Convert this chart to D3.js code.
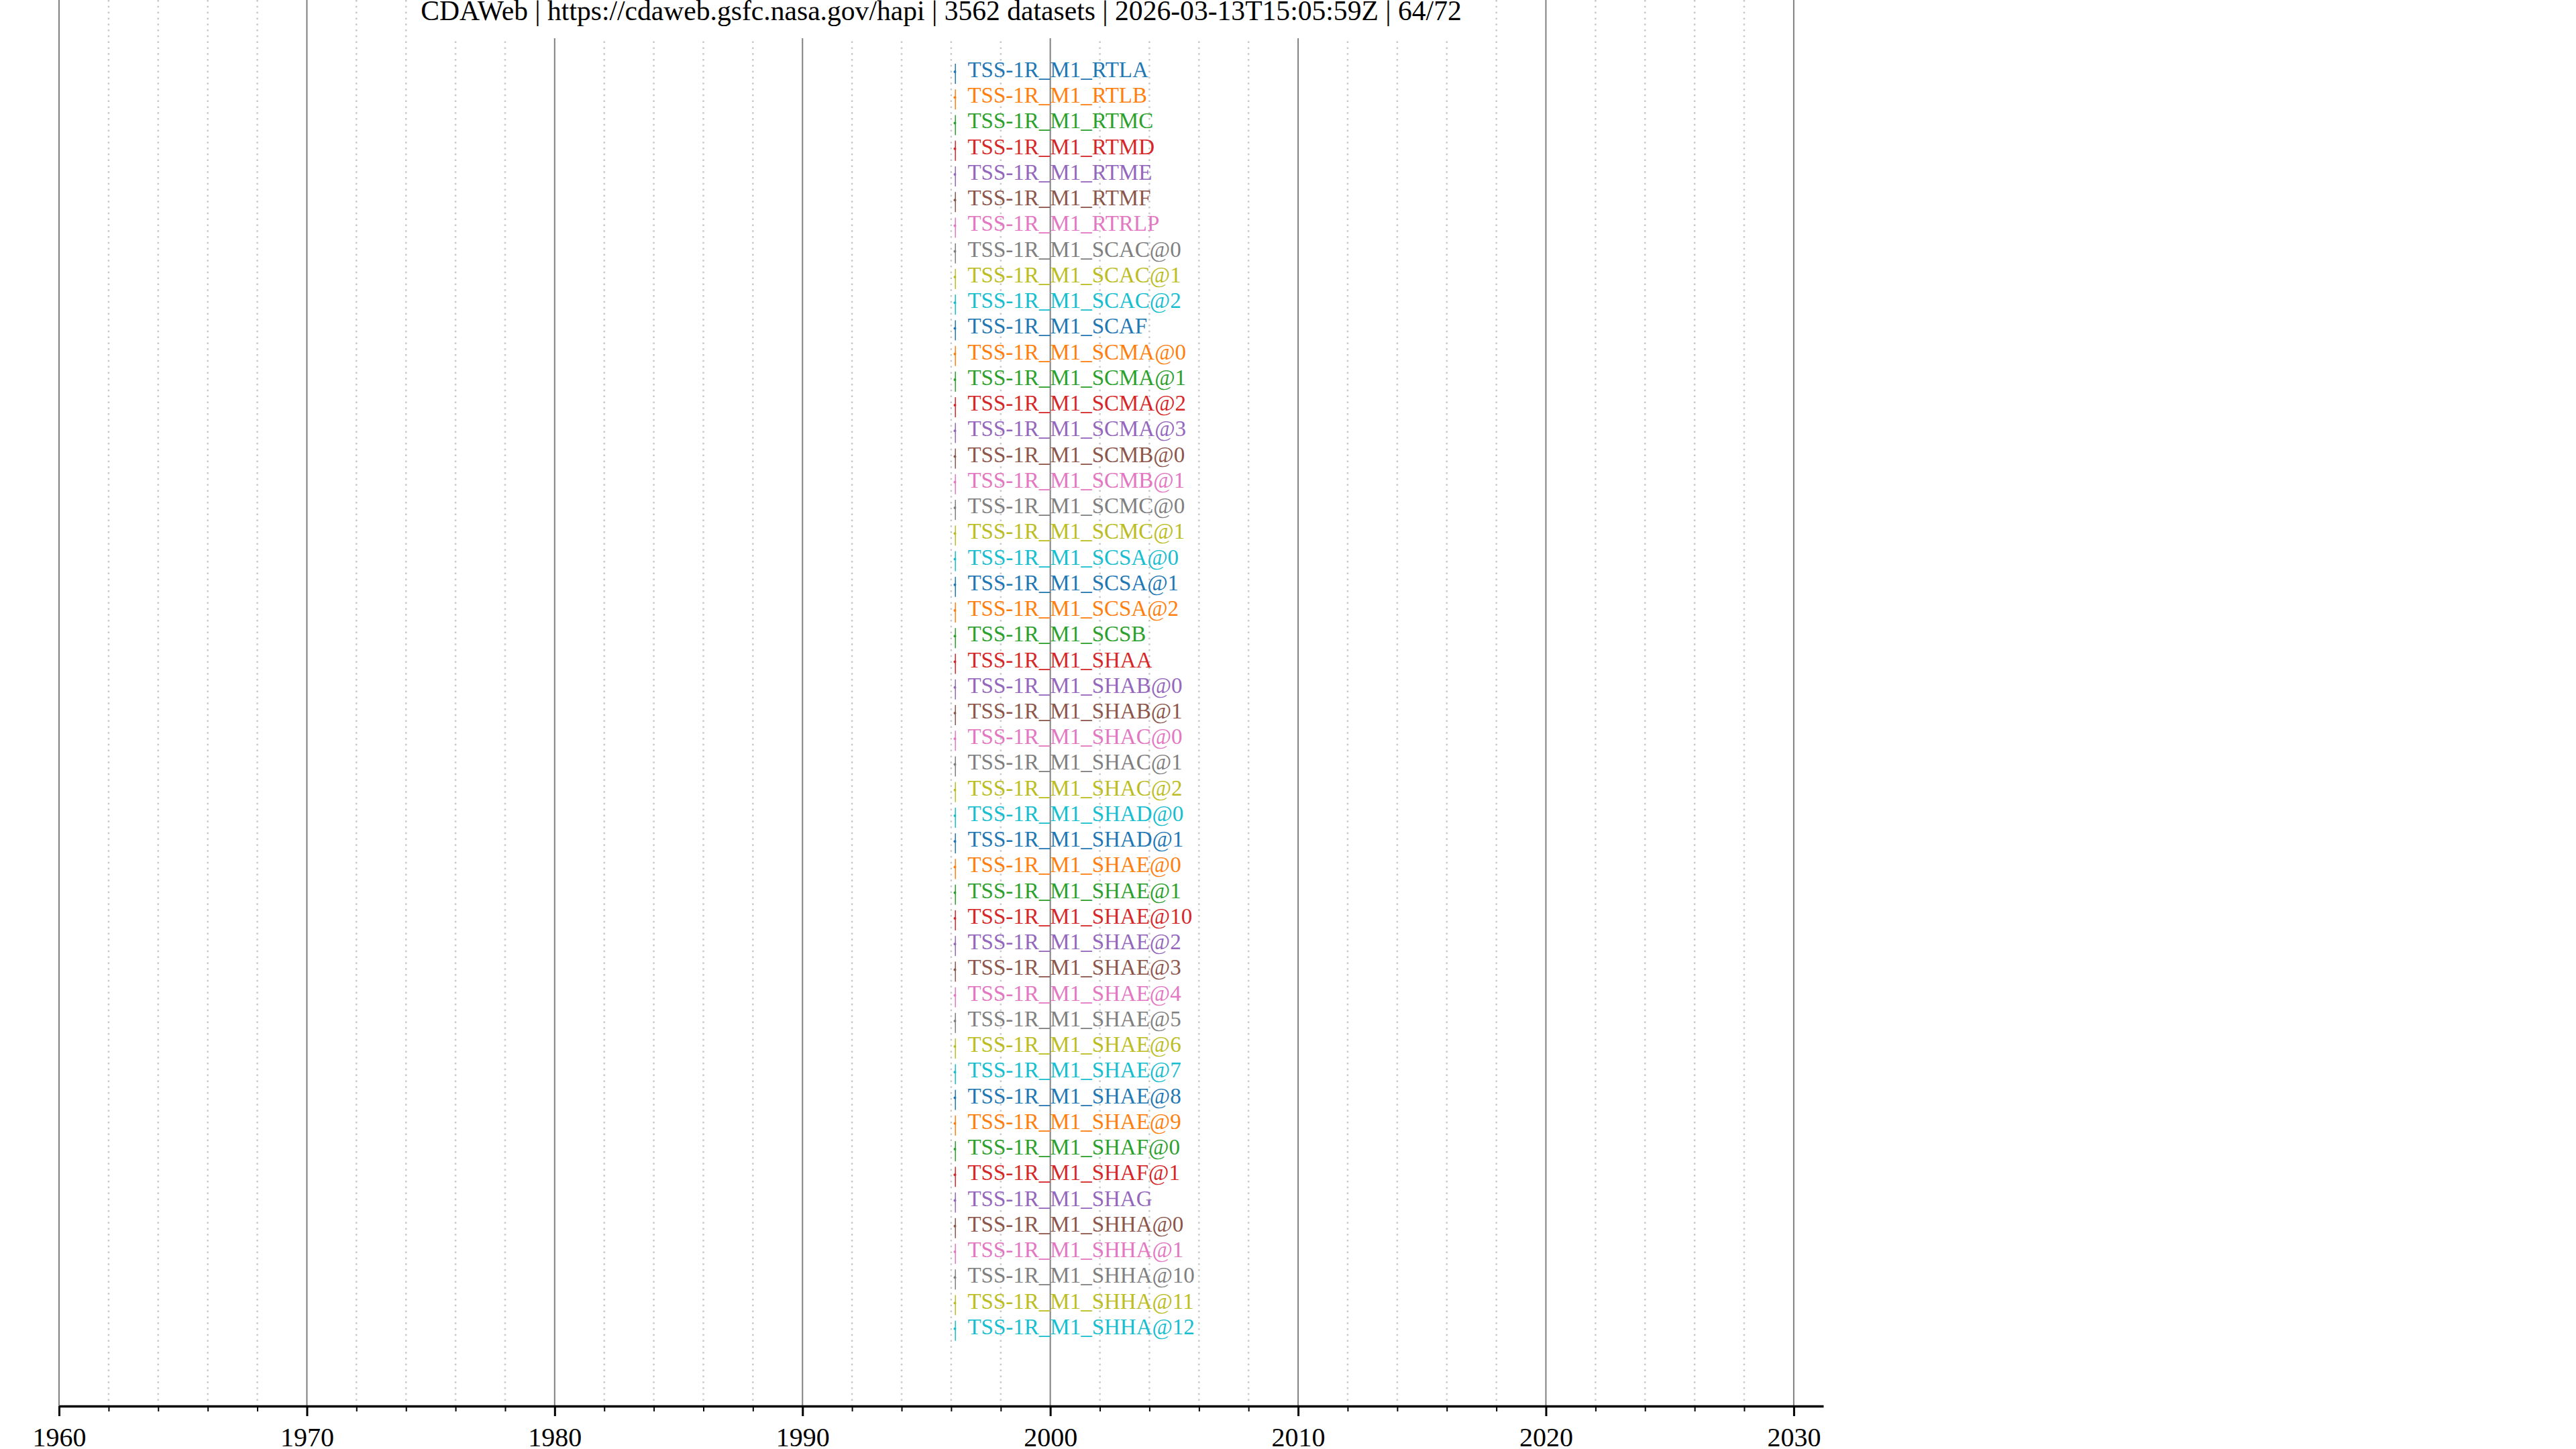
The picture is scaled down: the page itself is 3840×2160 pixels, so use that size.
<!DOCTYPE html>
<html>
<head>
<meta charset="utf-8">
<script src="https://cdn.jsdelivr.net/npm/d3@7"></script>
<style>
  html, body { margin: 0; padding: 0; background: #ffffff; }
  svg { display: block; }
</style>
</head>
<body>
<script>
// ---------------- data ----------------
const titleText = "CDAWeb | https://cdaweb.gsfc.nasa.gov/hapi | 3562 datasets | 2026-03-13T15:05:59Z | 64/72";

const datasetIds = [
  "TSS-1R_M1_RTLA", "TSS-1R_M1_RTLB", "TSS-1R_M1_RTMC", "TSS-1R_M1_RTMD", "TSS-1R_M1_RTME",
  "TSS-1R_M1_RTMF", "TSS-1R_M1_RTRLP", "TSS-1R_M1_SCAC@0", "TSS-1R_M1_SCAC@1", "TSS-1R_M1_SCAC@2",
  "TSS-1R_M1_SCAF", "TSS-1R_M1_SCMA@0", "TSS-1R_M1_SCMA@1", "TSS-1R_M1_SCMA@2", "TSS-1R_M1_SCMA@3",
  "TSS-1R_M1_SCMB@0", "TSS-1R_M1_SCMB@1", "TSS-1R_M1_SCMC@0", "TSS-1R_M1_SCMC@1", "TSS-1R_M1_SCSA@0",
  "TSS-1R_M1_SCSA@1", "TSS-1R_M1_SCSA@2", "TSS-1R_M1_SCSB", "TSS-1R_M1_SHAA", "TSS-1R_M1_SHAB@0",
  "TSS-1R_M1_SHAB@1", "TSS-1R_M1_SHAC@0", "TSS-1R_M1_SHAC@1", "TSS-1R_M1_SHAC@2", "TSS-1R_M1_SHAD@0",
  "TSS-1R_M1_SHAD@1", "TSS-1R_M1_SHAE@0", "TSS-1R_M1_SHAE@1", "TSS-1R_M1_SHAE@10", "TSS-1R_M1_SHAE@2",
  "TSS-1R_M1_SHAE@3", "TSS-1R_M1_SHAE@4", "TSS-1R_M1_SHAE@5", "TSS-1R_M1_SHAE@6", "TSS-1R_M1_SHAE@7",
  "TSS-1R_M1_SHAE@8", "TSS-1R_M1_SHAE@9", "TSS-1R_M1_SHAF@0", "TSS-1R_M1_SHAF@1", "TSS-1R_M1_SHAG",
  "TSS-1R_M1_SHHA@0", "TSS-1R_M1_SHHA@1", "TSS-1R_M1_SHHA@10", "TSS-1R_M1_SHHA@11", "TSS-1R_M1_SHHA@12"
];

const startDates = [
  "1996-02-25", "1996-02-25", "1996-02-25", "1996-02-25", "1996-02-25",
  "1996-02-25", "1996-02-25", "1996-02-25", "1996-02-25", "1996-02-25",
  "1996-02-25", "1996-02-25", "1996-02-25", "1996-02-25", "1996-02-25",
  "1996-02-25", "1996-02-25", "1996-02-25", "1996-02-25", "1996-02-25",
  "1996-02-25", "1996-02-25", "1996-02-25", "1996-02-25", "1996-02-25",
  "1996-02-25", "1996-02-25", "1996-02-25", "1996-02-25", "1996-02-25",
  "1996-02-25", "1996-02-25", "1996-02-25", "1996-02-25", "1996-02-25",
  "1996-02-25", "1996-02-25", "1996-02-25", "1996-02-25", "1996-02-25",
  "1996-02-25", "1996-02-25", "1996-02-25", "1996-02-25", "1996-02-25",
  "1996-02-25", "1996-02-25", "1996-02-25", "1996-02-25", "1996-02-25"
];

const stopDates = [
  "1996-02-26", "1996-02-26", "1996-02-26", "1996-02-26", "1996-02-26",
  "1996-02-26", "1996-02-26", "1996-02-26", "1996-02-26", "1996-02-26",
  "1996-02-26", "1996-02-26", "1996-02-26", "1996-02-26", "1996-02-26",
  "1996-02-26", "1996-02-26", "1996-02-26", "1996-02-26", "1996-02-26",
  "1996-02-26", "1996-02-26", "1996-02-26", "1996-02-26", "1996-02-26",
  "1996-02-26", "1996-02-26", "1996-02-26", "1996-02-26", "1996-02-26",
  "1996-02-26", "1996-02-26", "1996-02-26", "1996-02-26", "1996-02-26",
  "1996-02-26", "1996-02-26", "1996-02-26", "1996-02-26", "1996-02-26",
  "1996-02-26", "1996-02-26", "1996-02-26", "1996-02-26", "1996-02-26",
  "1996-02-26", "1996-02-26", "1996-02-26", "1996-02-26", "1996-02-26"
];

const majorTickYears = [1960, 1970, 1980, 1990, 2000, 2010, 2020, 2030];
const majorTickLabels = ["1960", "1970", "1980", "1990", "2000", "2010", "2020", "2030"];
const minorTickYears = [1962, 1964, 1966, 1968, 1972, 1974, 1976, 1978, 1982, 1984, 1986, 1988,
  1992, 1994, 1996, 1998, 2002, 2004, 2006, 2008, 2012, 2014, 2016, 2018, 2022, 2024, 2026, 2028];
const timeDomain = ["1960-01-01", "2031-03-13"];

// ---------------- layout ----------------
const W = 3840, H = 2160;
const axisY = 2096;
const FONT = "'Liberation Serif', 'Times New Roman', serif";
const parse = s => new Date(s + "T00:00:00Z");
const yearDate = y => new Date(Date.UTC(y, 0, 1));

const rows = datasetIds.map((id, i) => ({ id, start: parse(startDates[i]), stop: parse(stopDates[i]), i }));

const x = d3.scaleUtc().domain(timeDomain.map(parse)).range([88, 2718]);
const y = d3.scaleBand().domain(datasetIds).range([90.88, 2002.88]).paddingInner(0.2155).paddingOuter(0.10775);
const color = d3.scaleOrdinal(d3.schemeCategory10);

const svg = d3.select("body").append("svg")
  .attr("width", W).attr("height", H)
  .attr("viewBox", `0 0 ${W} ${H}`);

svg.append("rect").attr("width", W).attr("height", H).attr("fill", "#ffffff");

// grid
const grid = svg.append("g");
grid.selectAll("line.minor").data(minorTickYears).join("line")
  .attr("class", "minor")
  .attr("x1", d => x(yearDate(d))).attr("x2", d => x(yearDate(d)))
  .attr("y1", 0).attr("y2", axisY)
  .attr("stroke", "#c8c8c8").attr("stroke-width", 2.5)
  .attr("stroke-dasharray", "2.5,6.3");
grid.selectAll("line.major").data(majorTickYears).join("line")
  .attr("class", "major")
  .attr("x1", d => x(yearDate(d))).attr("x2", d => x(yearDate(d)))
  .attr("y1", 0).attr("y2", axisY)
  .attr("stroke", "#808080").attr("stroke-width", 2);

// title with white background
const titleG = svg.append("g");
const titleBg = titleG.append("rect").attr("fill", "#ffffff");
const title = titleG.append("text")
  .attr("x", (x.range()[0] + x.range()[1]) / 2)
  .attr("y", 30)
  .attr("text-anchor", "middle")
  .attr("font-family", FONT)
  .attr("font-size", 41.6)
  .attr("fill", "#000")
  .text(titleText);
const bb = title.node().getBBox();
titleBg.attr("x", bb.x - 6).attr("y", 0).attr("width", bb.width + 12).attr("height", 57);

// marks
const marks = svg.append("g");
const rowG = marks.selectAll("g.row").data(rows).join("g").attr("class", "row");
rowG.append("rect")
  .attr("x", d => x(d.start))
  .attr("y", d => y(d.id))
  .attr("width", d => Math.max(1.5, x(d.stop) - x(d.start)))
  .attr("height", y.bandwidth())
  .attr("fill", d => color(d.i));
rowG.append("circle")
  .attr("cx", d => (x(d.start) + x(d.stop)) / 2)
  .attr("cy", d => y(d.id) + 12)
  .attr("r", 2)
  .attr("fill", d => color(d.i));
rowG.append("text")
  .attr("x", d => x(d.start) + 19)
  .attr("y", d => y(d.id) + 20)
  .attr("font-family", FONT)
  .attr("font-size", 33)
  .attr("fill", d => color(d.i))
  .text(d => d.id);

// axis
const minorAxis = svg.append("g").attr("transform", `translate(0,${axisY})`)
  .call(d3.axisBottom(x).tickValues(minorTickYears.map(yearDate)).tickSize(8).tickSizeOuter(0).tickFormat(""));
minorAxis.select(".domain").remove();
minorAxis.selectAll(".tick line").attr("stroke", "#000").attr("stroke-width", 2);

const majorAxis = svg.append("g").attr("transform", `translate(0,${axisY})`)
  .call(d3.axisBottom(x).tickValues(majorTickYears.map(yearDate)).tickSize(15).tickSizeOuter(0)
    .tickFormat((d, i) => majorTickLabels[i]));
majorAxis.select(".domain").attr("stroke", "#000").attr("stroke-width", 3.5);
majorAxis.selectAll(".tick line").attr("stroke", "#000").attr("stroke-width", 3);
majorAxis.selectAll(".tick text")
  .attr("y", 60).attr("dy", 0)
  .attr("font-family", FONT).attr("font-size", 40).attr("fill", "#000");
</script>
</body>
</html>
